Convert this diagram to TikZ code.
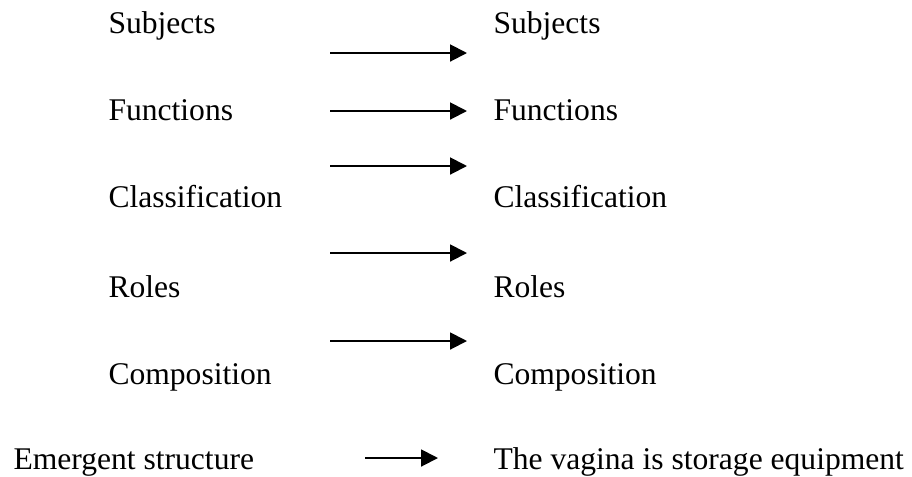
\documentclass[tikz,border=0pt]{standalone}
\usepackage{fontspec}
\setmainfont{Liberation Serif}
\usetikzlibrary{arrows.meta}
\tikzset{
    word/.style={inner sep=0pt, anchor=base west, font=\fontsize{12}{14}\selectfont},
    link/.style={line width=0.75pt, -{Triangle[length=6.4pt, width=6.4pt]}}
}
\begin{document}
\begin{tikzpicture}[x=0.38pt, y=-0.38pt]
        \useasboundingbox (0,0) rectangle (912,476);
        \foreach \t/\y [count=\i] in {Subjects/33, Functions/120, Classification/207, Roles/297, Composition/384}
            {
                \node[word] (left\i) at (108,\y) {\t};
                \node[word] (right\i) at (493,\y) {\t};
            }
        \foreach \y [count=\i] in {53,111,166,253,341}
            {
                \coordinate (from\i) at (330,\y);
                \coordinate (to\i) at (467,\y);
                \draw[link] (from\i) -- (to\i);
            }
        \node[word] (emergent) at (13,469) {Emergent structure};
        \node[word] (vagina) at (493,469) {The vagina is storage equipment};
        \coordinate (from6) at (365,458);
        \coordinate (to6) at (438,458);
        \draw[link] (from6) -- (to6);
    \end{tikzpicture}
\end{document}
